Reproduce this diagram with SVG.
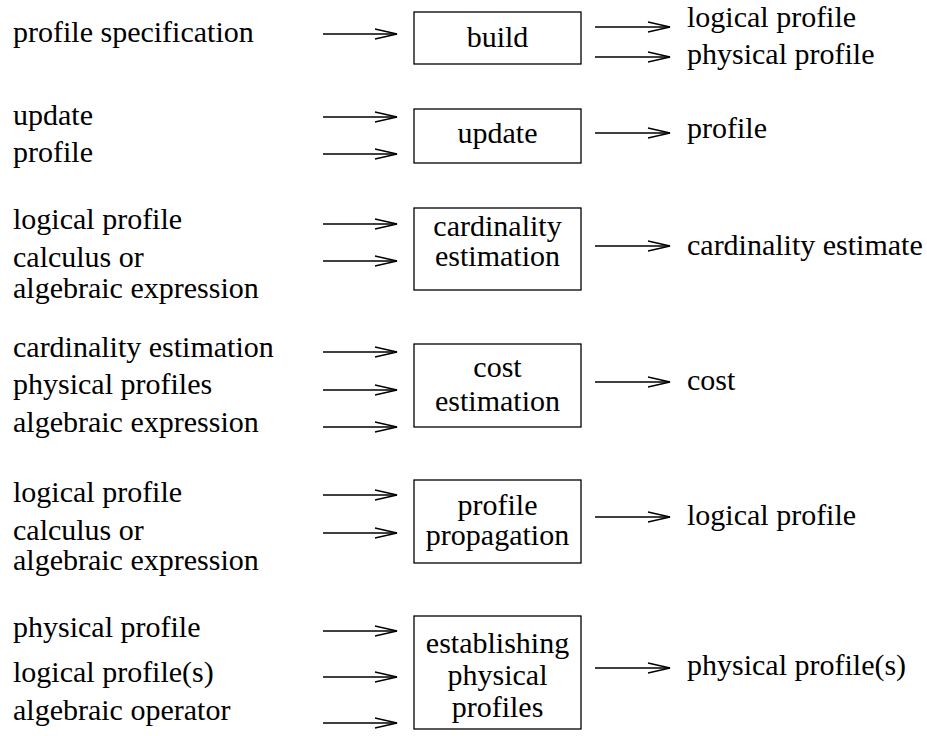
<svg xmlns="http://www.w3.org/2000/svg" width="927" height="736" viewBox="0 0 927 736" font-family="'Liberation Serif', 'Times New Roman', Tinos, 'Nimbus Roman', 'DejaVu Serif', serif">
<style>
text{font-family:'Liberation Serif','Times New Roman',Tinos,'Nimbus Roman','DejaVu Serif',serif;font-size:30px;fill:#000}
.c{text-anchor:middle}
rect{fill:#fff;stroke:#000;stroke-width:1.3}
.a{stroke:#000;stroke-width:1.3;fill:none}
</style>
<defs>
<marker id="ah" markerUnits="userSpaceOnUse" markerWidth="26" markerHeight="14" viewBox="-24 -7 26 14" refX="0" refY="0" orient="auto">
<path d="M-22,-5 L0,0 L-22,5" fill="none" stroke="#000" stroke-width="1.3"/>
</marker>
</defs>
<g id="labels-left">
<text x="13" y="42">profile specification</text>
<text x="13" y="125">update</text>
<text x="13" y="162">profile</text>
<text x="13" y="229">logical profile</text>
<text x="13" y="267">calculus or</text>
<text x="13" y="298">algebraic expression</text>
<text x="13" y="357">cardinality estimation</text>
<text x="13" y="394">physical profiles</text>
<text x="13" y="432">algebraic expression</text>
<text x="13" y="502">logical profile</text>
<text x="13" y="540">calculus or</text>
<text x="13" y="570">algebraic expression</text>
<text x="13" y="637">physical profile</text>
<text x="13" y="682">logical profile(s)</text>
<text x="13" y="720">algebraic operator</text>
</g>
<g id="build"><rect x="414" y="12" width="167" height="52"/><text class="c" x="497.5" y="47">build</text></g>
<g id="update"><rect x="414" y="109" width="167" height="54"/><text class="c" x="497.5" y="143">update</text></g>
<g id="cardinality"><rect x="414" y="208" width="167" height="82"/><text class="c" x="497.5" y="236">cardinality</text><text class="c" x="497.5" y="266">estimation</text></g>
<g id="cost"><rect x="414" y="344" width="167" height="83"/><text class="c" x="497.5" y="377">cost</text><text class="c" x="497.5" y="411">estimation</text></g>
<g id="propagation"><rect x="414" y="480" width="167" height="83"/><text class="c" x="497.5" y="515">profile</text><text class="c" x="497.5" y="545">propagation</text></g>
<g id="establishing"><rect x="414" y="616" width="167" height="113"/><text class="c" x="497.5" y="653">establishing</text><text class="c" x="497.5" y="685">physical</text><text class="c" x="497.5" y="717">profiles</text></g>
<g id="labels-right">
<text x="687" y="27">logical profile</text>
<text x="687" y="64">physical profile</text>
<text x="687" y="138">profile</text>
<text x="687" y="255">cardinality estimate</text>
<text x="687" y="390">cost</text>
<text x="687" y="525">logical profile</text>
<text x="687" y="675">physical profile(s)</text>
</g>
<g id="connectors" class="a" marker-end="url(#ah)">
<line x1="323" y1="34" x2="397" y2="34"/>
<line x1="323" y1="117" x2="397" y2="117"/>
<line x1="323" y1="154" x2="397" y2="154"/>
<line x1="323" y1="224" x2="397" y2="224"/>
<line x1="323" y1="261" x2="397" y2="261"/>
<line x1="323" y1="352" x2="397" y2="352"/>
<line x1="323" y1="390" x2="397" y2="390"/>
<line x1="323" y1="427" x2="397" y2="427"/>
<line x1="323" y1="495" x2="397" y2="495"/>
<line x1="323" y1="533" x2="397" y2="533"/>
<line x1="323" y1="631" x2="397" y2="631"/>
<line x1="323" y1="677" x2="397" y2="677"/>
<line x1="323" y1="723" x2="397" y2="723"/>
<line x1="595" y1="27" x2="670" y2="27"/>
<line x1="595" y1="57" x2="670" y2="57"/>
<line x1="595" y1="133" x2="670" y2="133"/>
<line x1="595" y1="246" x2="670" y2="246"/>
<line x1="595" y1="382" x2="670" y2="382"/>
<line x1="595" y1="517" x2="670" y2="517"/>
<line x1="595" y1="668" x2="670" y2="668"/>
</g>
</svg>
